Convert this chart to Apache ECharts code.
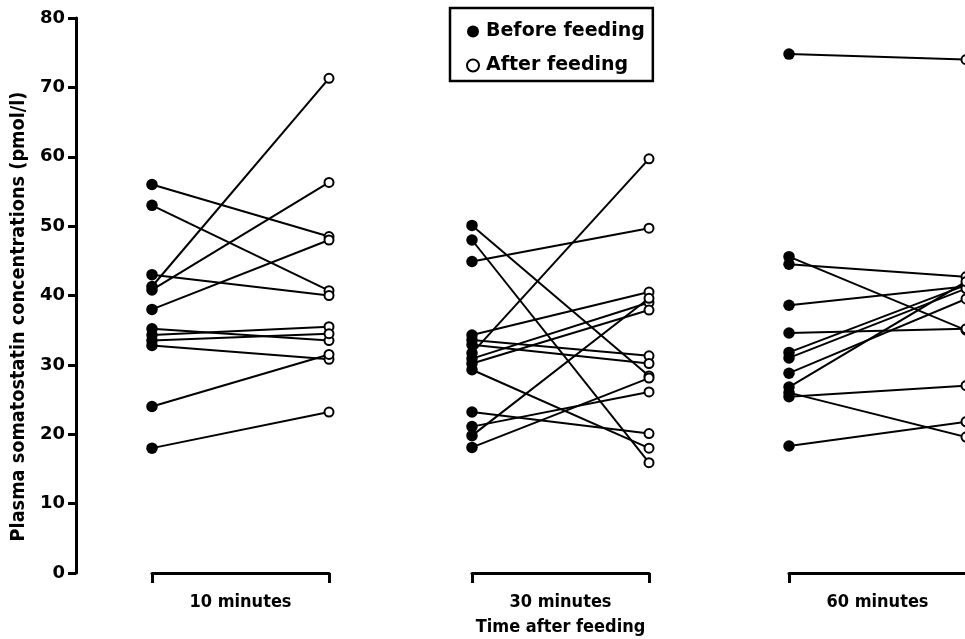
<!DOCTYPE html>
<html><head><meta charset="utf-8">
<script src="https://cdn.jsdelivr.net/npm/echarts@6/dist/echarts.min.js"></script>
<style>html,body{margin:0;padding:0;background:#fff}#c{width:965px;height:639px}</style>
</head><body><div id="c"></div>
<script>
// Group labels
const groupNames = ['10 minutes', '30 minutes\nTime after feeding', '60 minutes'];
// Y tick settings (pmol/l)
const yTicks = [0, 10, 20, 30, 40, 50, 60, 70, 80];

// 10 minutes: paired values (before -> after)
const before10 = [56.0, 53.0, 43.0, 41.3, 40.8, 38.0, 35.2, 34.3, 33.5, 32.8, 24.0, 18.0];
const after10  = [48.5, 40.7, 40.0, 71.3, 56.3, 48.0, 33.5, 35.5, 34.5, 30.8, 31.5, 23.2];

// 30 minutes
const before30 = [50.1, 48.0, 44.9, 34.3, 33.6, 32.9, 31.7, 30.9, 30.2, 29.3, 23.2, 21.1, 19.8, 18.1];
const after30  = [28.4, 15.9, 49.7, 40.5, 31.3, 30.2, 59.7, 39.0, 37.9, 18.0, 20.1, 26.1, 39.6, 28.1];

// 60 minutes
const before60 = [74.8, 45.6, 44.5, 38.6, 34.6, 31.8, 31.0, 28.8, 26.8, 26.0, 25.4, 18.3];
const after60  = [74.0, 35.0, 42.7, 41.3, 35.2, 41.5, 41.0, 39.5, 42.0, 19.6, 27.0, 21.8];

const groups = [[before10, after10], [before30, after30], [before60, after60]];
const FONT = "'DejaVu Sans Condensed', 'DejaVu Sans', sans-serif";

const chart = echarts.init(document.getElementById('c'), null, {renderer: 'canvas'});
const grids = [], xAxes = [], yAxes = [], series = [];
const lefts = [152, 472, 789];
groups.forEach((g, i) => {
  grids.push({left: lefts[i], top: 18, width: 177, height: 555, containLabel: false, outerBoundsMode: 'none'});
  xAxes.push({
    type: 'value', gridIndex: i, min: 0, max: 1, interval: 1,
    axisLine: {show: true, onZero: false, lineStyle: {color: '#000', width: 3}},
    axisTick: {show: true, inside: false, length: 10, lineStyle: {color: '#000', width: 3}},
    axisLabel: {show: false}, splitLine: {show: false},
    name: groupNames[i], nameLocation: 'middle', nameGap: 17,
    nameTextStyle: {fontFamily: FONT, fontSize: 18, fontWeight: 'bold', color: '#000', lineHeight: 25}
  });
  yAxes.push({
    type: 'value', gridIndex: i, min: yTicks[0], max: yTicks[yTicks.length - 1], interval: 10,
    show: i === 0, offset: 76,
    axisLine: {show: true, onZero: false, lineStyle: {color: '#000', width: 3}},
    axisTick: {show: true, inside: false, length: 8, lineStyle: {color: '#000', width: 3}},
    axisLabel: {fontFamily: 'DejaVu Sans', fontSize: 18, fontWeight: 'bold', color: '#000', margin: 11},
    splitLine: {show: false},
    name: 'Plasma somatostatin concentrations (pmol/l)', nameLocation: 'middle', nameGap: 47,
    nameTextStyle: {fontFamily: FONT, fontSize: 19.7, fontWeight: 'bold', color: '#000', padding: [0, 42, 0, 0]}
  });
  const [b, a] = g;
  series.push({
    type: 'lines', coordinateSystem: 'cartesian2d', xAxisIndex: i, yAxisIndex: i,
    silent: true, z: 2,
    lineStyle: {color: '#000', width: 2, opacity: 1},
    data: b.map((v, k) => ({coords: [[0, v], [1, a[k]]]}))
  });
  series.push({
    name: 'Before feeding', type: 'scatter', xAxisIndex: i, yAxisIndex: i, z: 3, clip: false,
    symbol: 'circle', symbolSize: 11.5, itemStyle: {color: '#000', opacity: 1},
    data: b.map(v => [0, v])
  });
  series.push({
    name: 'After feeding', type: 'scatter', xAxisIndex: i, yAxisIndex: i, z: 3, clip: false,
    symbol: 'circle', symbolSize: 9,
    itemStyle: {color: '#fff', borderColor: '#000', borderWidth: 2, opacity: 1},
    data: a.map(v => [1, v])
  });
});

chart.setOption({
  animation: false,
  backgroundColor: '#fff',
  legend: {
    left: 450, top: 8, orient: 'vertical', selectedMode: false,
    itemWidth: 12, itemHeight: 12, itemGap: 15,
    padding: [14, 8, 6, 16],
    borderColor: '#000', borderWidth: 2.5,
    textStyle: {fontFamily: "'DejaVu Sans'", fontSize: 19, fontWeight: 'bold', color: '#000', padding: [0, 0, 0, 2]},
    data: [
      {name: 'Before feeding', icon: 'circle', itemStyle: {color: '#000', opacity: 1}},
      {name: 'After feeding', icon: 'circle', itemStyle: {color: '#fff', borderColor: '#000', borderWidth: 2, opacity: 1}}
    ]
  },
  grid: grids, xAxis: xAxes, yAxis: yAxes, series: series
});
</script></body></html>
